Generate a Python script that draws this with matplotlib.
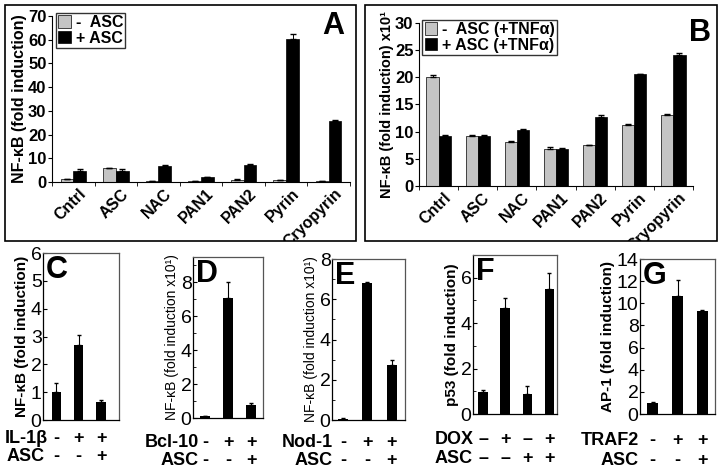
import numpy as np
import matplotlib
matplotlib.use("Agg")
import matplotlib.pyplot as plt
from matplotlib.patches import Rectangle
from matplotlib.transforms import blended_transform_factory, Bbox, TransformedBbox

plt.rcParams['font.family'] = ['Liberation Sans', 'DejaVu Sans']

# datos
cats = ['Cntrl', 'ASC', 'NAC', 'PAN1', 'PAN2', 'Pyrin', 'Cryopyrin']
a_menos = [1.2, 5.9, 0.5, 0.4, 0.8, 0.9, 0.3]
a_menos_err = [0.2, 0.2, 0.1, 0.1, 0.3, 0.1, 0.1]
a_mas = [4.7, 4.6, 6.9, 2.1, 7.0, 60.3, 25.9]
a_mas_err = [0.6, 0.8, 0.2, 0.2, 0.8, 2.0, 0.3]

b_menos = [20.1, 9.2, 8.1, 6.9, 7.5, 11.2, 13.1]
b_menos_err = [0.3, 0.1, 0.1, 0.2, 0.1, 0.3, 0.1]
b_mas = [9.2, 9.2, 10.3, 6.9, 12.7, 20.6, 24.1]
b_mas_err = [0.1, 0.1, 0.1, 0.1, 0.4, 0.1, 0.3]

c_vals = [1.0, 2.7, 0.65]
c_err = [0.33, 0.35, 0.07]
d_vals = [0.1, 7.1, 0.75]
d_err = [0.03, 0.95, 0.15]
e_vals = [0.07, 6.8, 2.75]
e_err = [0.02, 0.08, 0.25]
f_vals = [0.97, 4.67, 0.9, 5.5]
f_err = [0.08, 0.42, 0.33, 0.72]
g_vals = [1.0, 10.7, 9.3]
g_err = [0.05, 1.4, 0.1]

W, H = 720, 469
fig = plt.figure(figsize=(W / 100, H / 100), dpi=100)


def ejes(x0, x1, y0, y1):
    # coordenadas en pixeles (y desde arriba)
    return fig.add_axes([x0 / W, 1 - y1 / H, (x1 - x0) / W, (y1 - y0) / H])


gris = '#c4c4c4'

# cajas de los paneles superiores
cajas = []
for (x0, x1) in [(5, 356), (365, 717)]:
    fig.patches.append(Rectangle((x0 / W, 1 - 241 / H), (x1 - x0) / W, (241 - 5) / H,
                                 transform=fig.transFigure, fill=False,
                                 edgecolor='black', linewidth=1.2))
    cajas.append(TransformedBbox(Bbox([[x0 / W, 1 - 241 / H], [x1 / W, 1 - 5 / H]]),
                                 fig.transFigure))


def panel_sup(ax, caja, menos, menos_err, mas, mas_err, ylim, yticks, ylabel, fs_ylabel,
              letra, xletra, leyenda, anchos):
    x = np.arange(len(cats))
    w = anchos
    ax.bar(x - w / 2, menos, w, color=gris, edgecolor='black', linewidth=0.5, label=leyenda[0])
    ax.bar(x + w / 2, mas, w, color='black', edgecolor='black', linewidth=0.5, label=leyenda[1])
    ax.errorbar(x - w / 2, menos, yerr=[np.zeros(len(x)), menos_err], fmt='none',
                ecolor='black', elinewidth=0.7, capsize=2)
    ax.errorbar(x + w / 2, mas, yerr=[np.zeros(len(x)), mas_err], fmt='none',
                ecolor='black', elinewidth=0.7, capsize=2)
    ax.set_xlim(-0.5, 6.5)
    ax.set_ylim(*ylim)
    ax.set_yticks(yticks)
    ax.set_xticks(x + 0.12)
    ax.set_xticklabels(cats, rotation=45, ha='right', va='top', rotation_mode='anchor',
                       fontsize=11.5, fontweight='bold')
    for t in ax.get_xticklabels():
        t.set_clip_box(caja)
        t.set_clip_on(True)
    ax.set_xticks(np.arange(-0.5, 7, 1), minor=True)
    ax.tick_params(axis='x', which='major', length=0, pad=3)
    ax.tick_params(axis='x', which='minor', length=3, direction='out')
    ax.tick_params(axis='y', length=3, direction='out', labelsize=12, pad=1)
    for t in ax.get_yticklabels():
        t.set_fontweight('bold')
    ax.spines['top'].set_visible(False)
    ax.spines['right'].set_visible(False)
    ax.set_ylabel(ylabel, fontsize=fs_ylabel, fontweight='bold', labelpad=1)
    ax.text(xletra, 1.03, letra, transform=ax.transAxes, fontsize=22, fontweight='bold',
            ha='center', va='top')
    leg = ax.legend(loc='upper left', bbox_to_anchor=(0.012, 1.02),
                    prop={'weight': 'bold', 'size': 11.5}, frameon=True, fancybox=False,
                    handlelength=0.8, handleheight=0.8, handletextpad=0.3,
                    borderpad=0.15, labelspacing=0.05, borderaxespad=0)
    leg.get_frame().set_edgecolor('black')
    leg.get_frame().set_linewidth(1)


axA = ejes(52, 350, 16, 182)
panel_sup(axA, cajas[0], a_menos, a_menos_err, a_mas, a_mas_err, (0, 70), range(0, 71, 10),
          'NF-κB (fold induction)', 11.5, 'A', 0.943, ['-  ASC', '+ ASC'], 0.3)

axB = ejes(419, 693, 23, 186)
panel_sup(axB, cajas[1], b_menos, b_menos_err, b_mas, b_mas_err, (0, 30), range(0, 31, 5),
          'NF-κB (fold induction) x10¹', 10.5, 'B', 1.025,
          ['-  ASC (+TNFα)', '+ ASC (+TNFα)'], 0.31)


def panel_inf(ax, vals, err, xlim, ylim, yticks, ylabel, negrita, letra, filas, nombres,
              xnombre, ha_nombre, yfilas):
    x = np.arange(len(vals))
    ax.bar(x, vals, 0.42, color='black')
    ax.errorbar(x, vals, yerr=[np.zeros(len(x)), err], fmt='none', ecolor='black',
                elinewidth=0.8, capsize=1.5)
    ax.set_xlim(*xlim)
    ax.set_ylim(*ylim)
    ax.set_yticks(yticks)
    ax.set_xticks([])
    ax.tick_params(axis='y', length=3, direction='in', labelsize=14, pad=1)
    for s in ax.spines.values():
        s.set_linewidth(0.9)
    ax.spines['top'].set_color('#555555')
    ax.spines['right'].set_color('#555555')
    ax.set_ylabel(ylabel, fontsize=11 if negrita else 10,
                  fontweight='bold' if negrita else 'normal', labelpad=1)
    ax.text(0.04, 0.99, letra, transform=ax.transAxes, fontsize=22, fontweight='bold',
            ha='left', va='top')
    tr = blended_transform_factory(ax.transData, fig.transFigure)
    for fila, yy in zip(filas, yfilas):
        for xi, s in zip(x, fila):
            ax.text(xi, 1 - yy / H, s, transform=tr, ha='center', va='center',
                    fontsize=13, fontweight='bold', clip_on=False)
    for nom, yy in zip(nombres, yfilas):
        fig.text(xnombre / W, 1 - yy / H, nom, ha=ha_nombre, va='center',
                 fontsize=13, fontweight='bold')


axC = ejes(43, 119, 253, 420)
panel_inf(axC, c_vals, c_err, (-0.6, 2.8), (0, 6), range(0, 7),
          'NF-κB (fold induction)', True, 'C',
          [['-', '+', '+'], ['-', '-', '+']], ['IL-1β', 'ASC'], 26, 'center', [438, 456])

axD = ejes(193, 263, 257, 418)
panel_inf(axD, d_vals, d_err, (-0.52, 2.52), (0, 9.5), [0, 2, 4, 6, 8],
          'NF-κB (fold induction x10¹)', False, 'D',
          [['-', '+', '+'], ['-', '-', '+']], ['Bcl-10', 'ASC'], 199, 'right', [442, 460])
axD.set_yticks(range(0, 10), minor=True)
axD.tick_params(axis='y', which='minor', length=2, direction='in')

axE = ejes(332, 405, 259, 420)
panel_inf(axE, e_vals, e_err, (-0.45, 2.55), (0, 8), [0, 2, 4, 6, 8],
          'NF-κB (fold induction x10¹)', False, 'E',
          [['-', '+', '+'], ['-', '-', '+']], ['Nod-1', 'ASC'], 333, 'right', [442, 460])
axE.set_yticks(range(0, 9), minor=True)
axE.tick_params(axis='y', which='minor', length=2, direction='in')

axF = ejes(473, 557, 255, 414)
panel_inf(axF, f_vals, f_err, (-0.45, 3.35), (0, 7), [0, 2, 4, 6],
          'p53 (fold induction)', True, 'F',
          [['–', '+', '–', '+'], ['–', '–', '+', '+']], ['DOX', 'ASC'], 435, 'left', [439, 458])
axF.set_yticks(range(0, 8), minor=True)
axF.tick_params(axis='y', which='minor', length=2, direction='in')

axG = ejes(640, 715, 259, 414)
panel_inf(axG, g_vals, g_err, (-0.5, 2.5), (0, 14), range(0, 15, 2),
          'AP-1 (fold induction)', True, 'G',
          [['-', '+', '+'], ['-', '-', '+']], ['TRAF2', 'ASC'], 639, 'right', [440, 460])

fig.savefig('out.png', dpi=100)
